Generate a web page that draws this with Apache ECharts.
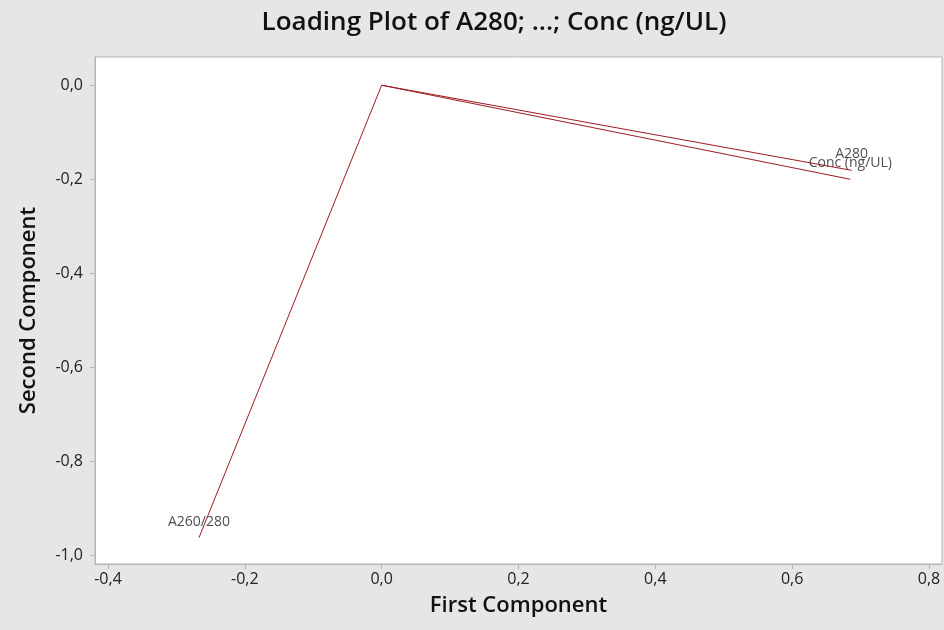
<!DOCTYPE html>
<html>
<head>
<meta charset="utf-8">
<title>Loading Plot</title>
<script src="https://cdn.jsdelivr.net/npm/echarts@6/dist/echarts.min.js"></script>
<style>
  html, body { margin: 0; padding: 0; background: #e6e6e6; }
  #chart { width: 944px; height: 630px; }
</style>
</head>
<body>
<div id="chart"></div>
<script>
// loadings
const variables = ['A280', 'Conc (ng/UL)', 'A260/280']
const firstComp = [0.687, 0.685, -0.267]
const secondComp = [-0.181, -0.200, -0.962]

// tick labels
const xTicks = [-0.4, -0.2, 0.0, 0.2, 0.4, 0.6, 0.8]
const yTicks = [0.0, -0.2, -0.4, -0.6, -0.8, -1.0]

const fmt = v => v.toFixed(1).replace('.', ',')
const font = '"Open Sans", "Noto Sans", sans-serif'

const chart = echarts.init(document.getElementById('chart'))

// one line from origin per variable
const series = variables.map((name, i) => ({
  name: name,
  type: 'line',
  symbol: 'none',
  silent: true,
  lineStyle: {color: '#9e1b22', width: 1},
  data: [[0, 0], [firstComp[i], secondComp[i]]]
}))

// labels at the line ends
series.push({
  type: 'scatter',
  symbolSize: 0,
  silent: true,
  data: variables.map((name, i) => ({name: name, value: [firstComp[i], secondComp[i]]})),
  label: {
    show: true,
    position: 'top',
    distance: 9,
    formatter: '{b}',
    color: '#222',
    fontSize: 14,
    fontFamily: font
  }
})

chart.setOption({
  backgroundColor: '#e6e6e6',
  animation: false,
  title: {
    text: 'Loading Plot of A280; ...; Conc (ng/UL)',
    left: 489,
    top: 5,
    textAlign: 'center',
    textStyle: {fontFamily: font, fontSize: 26, fontWeight: 600, color: '#111'}
  },
  grid: {
    left: 95,
    top: 57,
    right: 2,
    bottom: 66,
    show: true,
    backgroundColor: '#fff',
    borderColor: '#b4b4b4',
    borderWidth: 1
  },
  xAxis: {
    type: 'value',
    min: -0.419,
    max: 0.819,
    name: 'First Component',
    nameLocation: 'middle',
    nameGap: 31,
    nameTextStyle: {fontFamily: font, fontSize: 22, fontWeight: 600, color: '#111'},
    axisLine: {show: true, onZero: false, lineStyle: {color: '#b4b4b4'}},
    axisTick: {show: true, customValues: xTicks, length: 5, lineStyle: {color: '#b4b4b4'}},
    axisLabel: {customValues: xTicks, formatter: fmt, fontFamily: font, fontSize: 16, color: '#222', margin: 7},
    splitLine: {show: false}
  },
  yAxis: {
    type: 'value',
    min: -1.018,
    max: 0.06,
    name: 'Second Component',
    nameLocation: 'middle',
    nameGap: 55,
    nameTextStyle: {fontFamily: font, fontSize: 22, fontWeight: 600, color: '#111'},
    axisLine: {show: true, onZero: false, lineStyle: {color: '#b4b4b4'}},
    axisTick: {show: true, customValues: yTicks, length: 5, lineStyle: {color: '#b4b4b4'}},
    axisLabel: {customValues: yTicks, formatter: fmt, fontFamily: font, fontSize: 16, color: '#222', margin: 12},
    splitLine: {show: false}
  },
  series: series
})
</script>
</body>
</html>
